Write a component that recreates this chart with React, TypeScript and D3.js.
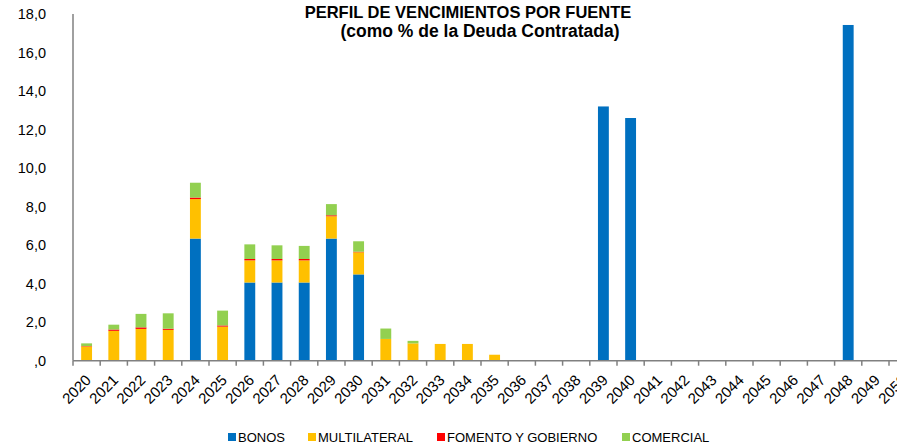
import React, { useEffect, useRef } from 'react'
import * as d3 from 'd3'

const years = d3.range(2020, 2051).map(String)

// % de la deuda contratada, por año
const bonos: Record<string, number> = {
  '2024': 6.34, '2026': 4.06, '2027': 4.06, '2028': 4.06, '2029': 6.34, '2030': 4.48,
  '2039': 13.2, '2040': 12.6, '2048': 17.43,
}
const multilateral: Record<string, number> = {
  '2020': 0.74, '2021': 1.55, '2022': 1.65, '2023': 1.6, '2024': 2.05, '2025': 1.77,
  '2026': 1.15, '2027': 1.15, '2028': 1.15, '2029': 1.16, '2030': 1.15, '2031': 1.13,
  '2032': 0.9, '2033': 0.87, '2034': 0.87, '2035': 0.31,
}
const fomento: Record<string, number> = {
  '2020': 0.02, '2021': 0.07, '2022': 0.08, '2023': 0.06, '2024': 0.08, '2025': 0.06,
  '2026': 0.07, '2027': 0.07, '2028': 0.07, '2029': 0.05, '2030': 0.03,
}
const comercial: Record<string, number> = {
  '2020': 0.14, '2021': 0.25, '2022': 0.7, '2023': 0.8, '2024': 0.77, '2025': 0.77,
  '2026': 0.76, '2027': 0.71, '2028': 0.68, '2029': 0.58, '2030': 0.54, '2031': 0.54,
  '2032': 0.13,
}

const seriesNames = ['BONOS', 'MULTILATERAL', 'FOMENTO Y GOBIERNO', 'COMERCIAL']
const seriesData = [bonos, multilateral, fomento, comercial]
const colors = ['#0070C0', '#FFC000', '#FF0000', '#92D050']
const yTicks = [0, 2, 4, 6, 8, 10, 12, 14, 16, 18]

const W = 897
const H = 447
const FONT = '"Liberation Sans", Arial, sans-serif'

export default function App() {
  const svgRef = useRef<SVGSVGElement>(null)

  useEffect(() => {
    if (!svgRef.current) return
    const svg = d3.select(svgRef.current)
    svg.selectAll('*').remove()

    const left = 73
    const step = 27.2
    const x = d3
      .scaleBand()
      .domain(years)
      .range([left, left + step * years.length])
      .paddingInner(0.6)
      .paddingOuter(0.3)

    const y = d3.scaleLinear().domain([0, 18]).range([360.7, 14])

    const table = years.map((yr) => {
      const row: Record<string, number | string> = { year: yr }
      seriesNames.forEach((s, i) => (row[s] = seriesData[i][yr] || 0))
      return row
    })
    const stacked = d3.stack<Record<string, number | string>>().keys(seriesNames)(table)

    const g = svg.append('g')

    g.selectAll('g.layer')
      .data(stacked)
      .enter()
      .append('g')
      .attr('fill', (_, i) => colors[i])
      .selectAll('rect')
      .data((d) => d.filter((p) => p[1] - p[0] > 0))
      .enter()
      .append('rect')
      .attr('x', (d) => x(String(d.data.year)) || 0)
      .attr('width', x.bandwidth())
      .attr('y', (d) => y(d[1]))
      .attr('height', (d) => y(d[0]) - y(d[1]))

    // eje Y
    g.append('line')
      .attr('x1', left).attr('x2', left)
      .attr('y1', y(18)).attr('y2', y(0))
      .attr('stroke', '#808080').attr('stroke-width', 1.5)

    g.selectAll('text.ytick')
      .data(yTicks)
      .enter()
      .append('text')
      .attr('x', 46)
      .attr('y', (d) => y(d))
      .attr('dy', '0.36em')
      .attr('text-anchor', 'end')
      .attr('font-size', 14.5)
      .attr('font-family', FONT)
      .attr('fill', '#000')
      .text((d) => (d === 0 ? ',0' : d3.format('.1f')(d).replace('.', ',')))

    // eje X
    g.append('line')
      .attr('x1', left).attr('x2', W)
      .attr('y1', y(0)).attr('y2', y(0))
      .attr('stroke', '#808080').attr('stroke-width', 1.5)

    g.selectAll('line.xtick')
      .data(years)
      .enter()
      .append('line')
      .attr('x1', (d) => (x(d) || 0) + x.bandwidth() / 2 - step / 2)
      .attr('x2', (d) => (x(d) || 0) + x.bandwidth() / 2 - step / 2)
      .attr('y1', y(0))
      .attr('y2', y(0) + 5)
      .attr('stroke', '#808080')
      .attr('stroke-width', 1.5)

    // la etiqueta de 2050 queda cortada en el borde derecho, como en el original
    g.selectAll('text.xtick')
      .data(years)
      .enter()
      .append('text')
      .attr('transform', (d) => `translate(${(x(d) || 0) + x.bandwidth() / 2 - 2},${y(0) + 13}) rotate(-45)`)
      .attr('text-anchor', 'end')
      .attr('dy', '0.7em')
      .attr('font-size', 15)
      .attr('font-family', FONT)
      .attr('fill', '#000')
      .text((d) => d)

    // título
    const title = g.append('text')
      .attr('text-anchor', 'middle')
      .attr('font-family', FONT)
      .attr('font-weight', 'bold')
      .attr('font-size', 16.5)
      .attr('fill', '#000')
    title.append('tspan').attr('x', 468).attr('y', 18).text('PERFIL DE VENCIMIENTOS POR FUENTE')
    title.append('tspan').attr('x', 480).attr('y', 37).attr('font-size', 17.5).text('(como % de la Deuda Contratada)')

    // leyenda
    const legendX = [228, 308, 437, 622]
    const lg = g.selectAll('g.legend')
      .data(seriesNames)
      .enter()
      .append('g')
      .attr('transform', (_, i) => `translate(${legendX[i]},437)`)
    lg.append('rect')
      .attr('x', 0).attr('y', -4)
      .attr('width', 8).attr('height', 8)
      .attr('fill', (_, i) => colors[i])
    lg.append('text')
      .attr('x', 10)
      .attr('dy', '0.36em')
      .attr('font-size', 13)
      .attr('font-family', FONT)
      .attr('fill', '#000')
      .text((d) => d)
  }, [])

  return (
    <svg
      ref={svgRef}
      width={W}
      height={H}
      style={{ position: 'absolute', left: 0, top: 0, background: '#fff' }}
    />
  )
}
